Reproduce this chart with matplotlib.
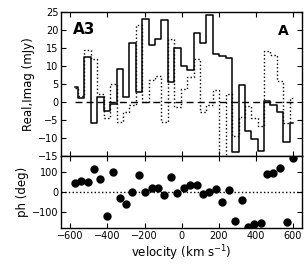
import matplotlib
matplotlib.use("Agg")
import matplotlib.pyplot as plt

velocity = [-576, -543, -506, -472, -438, -404, -368, -333, -300, -266,
            -229, -195, -161, -127, -93, -57, -23, 12, 47, 82,
            116, 150, 186, 220, 255, 290, 325, 359, 393, 427,
            460, 495, 532, 566, 600]
real = [4.2, 1.2, 12.5, -5.9, 1.3, -2.5, -0.7, 9.1, 1.4, 16.4,
        2.8, 23.0, 15.8, 17.6, 22.7, 5.6, 15.1, 10.0, 8.9, 19.3,
        16.5, 24.2, 13.4, 12.9, 12.2, -14.0, 4.8, -8.1, -10.4, -13.6,
        0.3, -0.9, -2.7, -11.2, -6.0]
imag = [3.9, 1.6, 14.5, 12.0, 2.3, -4.6, 5.0, -5.6, -2.7, -0.8,
        21.4, 0.0, 6.1, 7.2, -5.5, 17.5, -1.3, 3.7, 6.8, 12.0,
        -2.7, -0.8, 3.2, -16.5, 2.2, -9.5, -4.2, -1.1, -4.4, -6.6,
        14.2, 13.0, 5.8, -6.0, 1.2]
phase = [43, 53, 48, 116, 63, -118, 98, -32, -60, -2,
         83, 0, 21, 22, -13, 73, -5, 20, 37, 33,
         -10, -2, 13, -50, 10, -143, -42, -172, -158, -155,
         88, 95, 118, -150, 170]

fig = plt.figure(figsize=(3.07, 2.77), dpi=100)
ax1 = fig.add_axes([0.199, 0.438, 0.785, 0.518])
ax2 = fig.add_axes([0.199, 0.176, 0.785, 0.262], sharex=ax1)

ax1.plot(velocity, real, drawstyle='steps-mid', color='k', lw=1.1)
ax1.plot(velocity, imag, drawstyle='steps-mid', color='k', lw=1.0, ls=':')
ax1.plot([velocity[0], velocity[-1]], [0, 0], color='k', lw=1.0, ls='--', dashes=(5, 3))
ax1.set_ylim(-15, 25)
ax1.set_xlim(-650, 650)
ax1.set_yticks(range(-15, 26, 5))
ax1.set_ylabel('Real,Imag (mJy)', fontsize=8.5, labelpad=2)
ax1.text(0.048, 0.935, 'A3', transform=ax1.transAxes, fontsize=11,
         fontweight='bold', ha='left', va='top')
ax1.text(0.945, 0.92, 'A', transform=ax1.transAxes, fontsize=10,
         fontweight='bold', ha='right', va='top')
ax1.tick_params(labelbottom=False)

ax2.plot(velocity, phase, 'o', color='k', ms=5)
ax2.axhline(0, color='k', lw=1.0, ls=':')
ax2.set_ylim(-180, 180)
ax2.set_yticks([-100, 0, 100])
ax2.set_xticks(range(-600, 601, 200))
ax2.set_ylabel('ph (deg)', fontsize=8.5, labelpad=2)
ax2.set_xlabel('velocity (km s$^{-1}$)', fontsize=8.5, labelpad=2)

for ax in (ax1, ax2):
    ax.tick_params(direction='in', top=True, right=True, labelsize=7,
                   length=3.5, width=0.8, pad=2)
    for s in ax.spines.values():
        s.set_linewidth(1.0)

fig.savefig('out.png', dpi=100)
